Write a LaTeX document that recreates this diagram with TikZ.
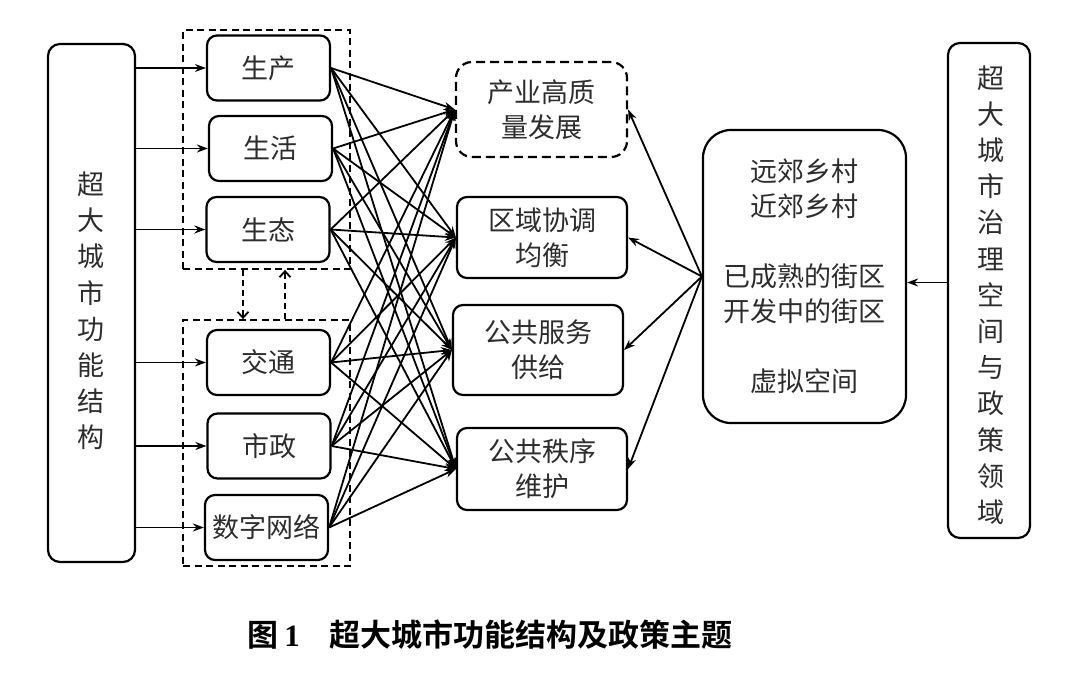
\documentclass[tikz,border=0pt]{standalone}
\usepackage{fontspec}
\newfontfamily\cjk[BoldFont={Noto Sans CJK SC Bold}]{Noto Sans CJK SC}
\newfontfamily\serifnum{Liberation Serif}
\usetikzlibrary{arrows.meta}
\definecolor{txt}{RGB}{45,45,45}
\begin{document}
\begin{tikzpicture}[x=1pt,y=-1pt,
  box/.style={draw, line width=2.2pt, rounded corners=10pt, align=center, inner sep=0pt, text=txt, font=\cjk\fontsize{27}{35}\selectfont},
  fbox/.style={box, minimum width=123pt, minimum height=65pt},
  tbox/.style={box, minimum width=170pt},
  vbox/.style={draw, line width=2.2pt, rounded corners=12pt, inner sep=0pt},
  vtext/.style={align=center, inner sep=0pt, text=txt, font=\cjk\fontsize{27}{36.2}\selectfont},
  group/.style={draw, dash pattern=on 7pt off 4.5pt, line width=1.8pt, inner sep=0pt},
  arr/.style={-{Stealth[length=11pt,width=8pt]}, line width=1.8pt},
  darr/.style={dash pattern=on 6pt off 4pt, line width=1.8pt, -{Straight Barb[length=6pt,width=11pt]}},
  ]
\useasboundingbox (0,0) rectangle (1080,680);
% groups
\node[group, minimum width=167pt, minimum height=239pt] (g1) at (266.5,149.5) {};
\node[group, minimum width=167pt, minimum height=246pt] (g2) at (266.5,443) {};
% left box
\node[vbox, minimum width=87pt, minimum height=518pt] (L) at (91.5,303) {};
\node[vtext] (Lt) at (91,311) {超\\大\\城\\市\\功\\能\\结\\构};
% function boxes
\node[fbox] (f1) at (268.5,68) {生产};
\node[fbox] (f2) at (270.5,148.5) {生活};
\node[fbox] (f3) at (268,229.5) {生态};
\node[fbox] (f4) at (268.5,362.5) {交通};
\node[fbox] (f5) at (269,446) {市政};
\node[fbox] (f6) at (266.5,527.5) {数字网络};
% target boxes
\node[tbox, dash pattern=on 9pt off 5pt, rounded corners=16pt, minimum height=95pt, minimum width=171pt] (t1) at (541.5,109.5) {产业高质\\量发展};
\node[tbox, minimum height=81pt] (t2) at (542,237.5) {区域协调\\均衡};
\node[tbox, minimum height=90pt] (t3) at (538,350) {公共服务\\供给};
\node[tbox, minimum height=82pt] (t4) at (542,469) {公共秩序\\维护};
% right middle box
\node[box, rounded corners=28pt, minimum width=203pt, minimum height=293pt] (R) at (804.5,276.5)
  {远郊乡村\\近郊乡村\\[35pt]已成熟的街区\\开发中的街区\\[35pt]虚拟空间};
% far right box
\node[vbox, minimum width=82pt, minimum height=495pt] (F) at (989,290.5) {};
\node[vtext] (Ft) at (991,295) {超\\大\\城\\市\\治\\理\\空\\间\\与\\政\\策\\领\\域};
% left arrows
\foreach \f in {f1,f2,f3,f4,f5,f6}
  \draw[arr] (L.east |- \f.west) -- (\f.west);
% crossing arrows
\foreach \f in {f1,f2,f3,f4,f5,f6}
  \foreach \t in {t1,t2,t3,t4}
    \draw[arr] (\f.east) -- (\t.west);
% right arrows
\foreach \t in {t1,t2,t3,t4}
  \draw[arr] (R.west) -- (\t.east);
\coordinate (Rin) at ([yshift=-6pt]R.east);
\draw[arr] (F.west |- Rin) -- (Rin);
% dashed arrows between groups
\draw[darr] ([xshift=-23.5pt]g1.south) -- ([xshift=-23.5pt]g2.north);
\draw[darr] ([xshift=18.5pt]g2.north) -- ([xshift=18.5pt]g1.south);
% caption
\node[inner sep=0pt, font=\cjk\bfseries\fontsize{31}{31}\selectfont] (cap) at (490,635)
  {图\hspace{6pt}{\serifnum\bfseries 1}\hspace{30pt}超大城市功能结构及政策主题};
\end{tikzpicture}
\end{document}
